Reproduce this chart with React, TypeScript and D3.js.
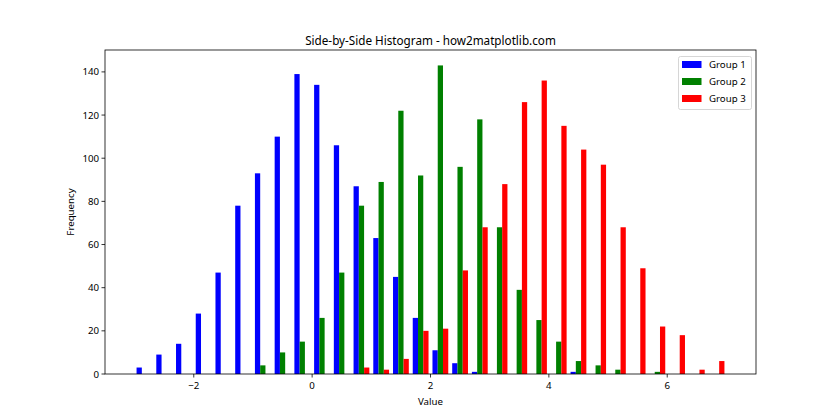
import React from "react";
import * as d3 from "d3";

const binEdgesStart = -3.0;
const binWidth = 1 / 3;
const binCount = 30;

const group1 = [3, 9, 14, 28, 47, 78, 93, 110, 139, 134, 106, 87, 63, 45, 26, 11, 5, 1, 0, 0, 0, 0, 1, 0, 0, 0, 0, 0, 0, 0];
const group2 = [0, 0, 0, 0, 0, 0, 4, 10, 15, 26, 47, 78, 89, 122, 92, 143, 96, 118, 68, 39, 25, 15, 6, 4, 2, 0, 1, 0, 0, 0];
const group3 = [0, 0, 0, 0, 0, 0, 0, 0, 0, 0, 0, 3, 2, 7, 20, 21, 48, 68, 88, 126, 136, 115, 104, 97, 68, 49, 22, 18, 2, 6];

const seriesNames = ["Group 1", "Group 2", "Group 3"];
const seriesColors = ["#0000ff", "#008000", "#ff0000"];
const xTicks = [-2, 0, 2, 4, 6];
const yTicks = [0, 20, 40, 60, 80, 100, 120, 140];

const title = "Side-by-Side Histogram - how2matplotlib.com";
const xLabel = "Value";
const yLabel = "Frequency";

const FONT = "'Noto Sans', 'Open Sans', sans-serif";

export default function App() {
  const left = 105, right = 756, top = 50, bottom = 374;
  const series = [group1, group2, group3];
  const dataMin = binEdgesStart;
  const dataMax = binEdgesStart + binCount * binWidth;
  const pad = (dataMax - dataMin) * 0.05;
  const x = d3.scaleLinear().domain([dataMin - pad, dataMax + pad]).range([left, right]);
  const yMax = d3.max(series.flat())! * 1.05;
  const y = d3.scaleLinear().domain([0, yMax]).range([bottom, top]);
  const barW = (0.8 * binWidth) / series.length;

  return (
    <svg width={840} height={420} style={{ position: "absolute", left: 0, top: 0, background: "#fff" }} fontFamily={FONT}>
      <rect x={0} y={0} width={840} height={420} fill="#fff" />
      {series.map((vals, s) => (
        <g key={s} fill={seriesColors[s]}>
          {vals.map((v, i) => {
            if (v <= 0) return null;
            const c = binEdgesStart + (i + 0.5) * binWidth + (s - 1) * barW;
            const x0 = x(c - barW / 2);
            const x1 = x(c + barW / 2);
            return <rect key={i} x={x0} y={y(v)} width={x1 - x0} height={y(0) - y(v)} />;
          })}
        </g>
      ))}
      {/* spines */}
      <rect x={left} y={top} width={right - left} height={bottom - top} fill="none" stroke="#000" strokeWidth={0.8} />
      {/* x ticks */}
      {xTicks.map((t) => (
        <g key={t}>
          <line x1={x(t)} x2={x(t)} y1={bottom} y2={bottom + 3.5} stroke="#000" strokeWidth={0.8} />
          <text x={x(t)} y={bottom + 15} textAnchor="middle" fontSize={9.7} fill="#000">
            {t < 0 ? "\u2212" + Math.abs(t) : t}
          </text>
        </g>
      ))}
      {yTicks.map((t) => (
        <g key={t}>
          <line x1={left - 3.5} x2={left} y1={y(t)} y2={y(t)} stroke="#000" strokeWidth={0.8} />
          <text x={left - 6} y={y(t) + 3.5} textAnchor="end" fontSize={9.7} fill="#000">
            {t}
          </text>
        </g>
      ))}
      <text x={(left + right) / 2} y={405} textAnchor="middle" fontSize={9.7} fill="#000">{xLabel}</text>
      <text transform={`translate(74,${(top + bottom) / 2}) rotate(-90)`} textAnchor="middle" fontSize={9.7} fill="#000">{yLabel}</text>
      <text x={(left + right) / 2} y={45} textAnchor="middle" fontSize={11.7} fill="#000">{title}</text>
      {/* legend */}
      <g>
        <rect x={678.5} y={56.5} width={73} height={53} rx={2} fill="#fff" fillOpacity={0.8} stroke="#ccc" strokeWidth={0.8} />
        {seriesNames.map((n, i) => (
          <g key={n}>
            <rect x={682} y={61 + i * 17} width={19.5} height={7} fill={seriesColors[i]} />
            <text x={709} y={68 + i * 17} fontSize={9.7} fill="#000">{n}</text>
          </g>
        ))}
      </g>
    </svg>
  );
}
